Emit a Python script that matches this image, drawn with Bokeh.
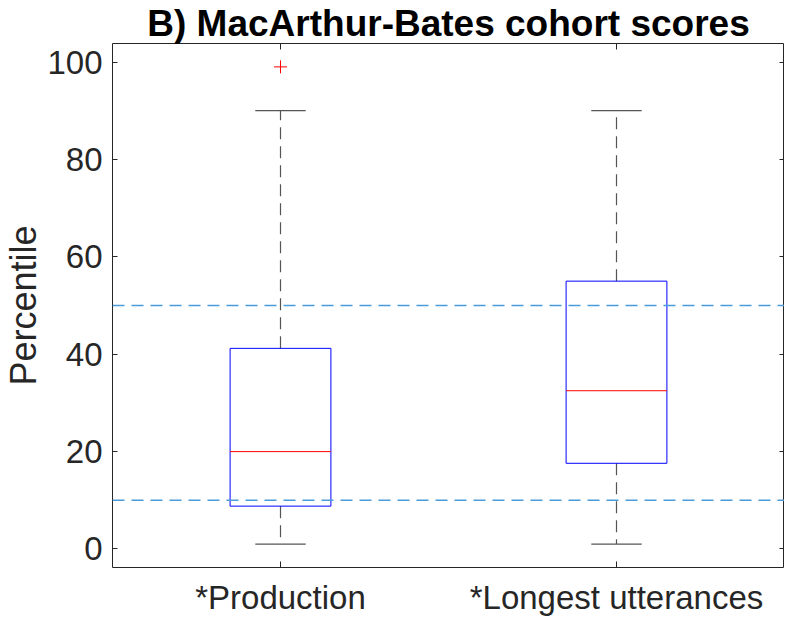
import numpy as np
from bokeh.plotting import figure
from bokeh.models import Range1d, FixedTicker, LinearAxis, Span, ColumnDataSource
from bokeh.embed import file_html
from bokeh.resources import INLINE

# ---- data ----
categories = ["*Production", "*Longest utterances"]
lower_whisker = [1, 1]
q1 = [8.8, 17.6]
median = [20, 32.5]
q3 = [41.2, 55]
upper_whisker = [90, 90]
outlier_group = [0]
outlier_values = [99]
reference_lines = [10, 50]
y_ticks = [0, 20, 40, 60, 80, 100]

AX = "#262626"
FONT = "Liberation Sans"
WHISK = "#555555"

pos = np.arange(1, len(categories) + 1).astype(float)
box_w = 0.3
cap_w = 0.15

src = ColumnDataSource(dict(
    x=pos,
    lower=lower_whisker, q1=q1, median=median, q3=q3, upper=upper_whisker,
    box_l=pos - box_w / 2, box_r=pos + box_w / 2,
    cap_l=pos - cap_w / 2, cap_r=pos + cap_w / 2,
))

p = figure(width=784, height=618, x_range=Range1d(0.5, 2.5), y_range=Range1d(-3.8, 103.8),
           output_backend="svg", toolbar_location=None,
           title="B) MacArthur-Bates cohort scores", min_border=0)
p.min_border_left = 0
p.min_border_right = 0
p.min_border_top = 0
p.min_border_bottom = 0
p.background_fill_color = "white"
p.border_fill_color = "white"
p.outline_line_color = AX
p.outline_line_width = 1

p.title.text_font = FONT
p.title.text_font_size = "37px"
p.title.text_font_style = "bold"
p.title.text_color = "black"
p.title.align = "center"
p.title.standoff = 0

p.xgrid.visible = False
p.ygrid.visible = False

# left axis
ya = p.yaxis[0]
ya.ticker = FixedTicker(ticks=y_ticks)
ya.axis_label = "Percentile"
ya.axis_label_text_font = FONT
ya.axis_label_text_font_size = "36px"
ya.axis_label_text_font_style = "normal"
ya.axis_label_text_color = AX
ya.axis_label_standoff = 0
ya.major_label_text_font = FONT
ya.major_label_text_font_size = "33px"
ya.major_label_text_color = AX
ya.major_label_standoff = 10
ya.major_tick_in = 5
ya.major_tick_out = 0
ya.minor_tick_in = 0
ya.minor_tick_out = 0
ya.major_tick_line_color = AX
ya.axis_line_color = None

# bottom axis
xa = p.xaxis[0]
xa.ticker = FixedTicker(ticks=[float(v) for v in pos])
xa.major_label_overrides = {float(v): c for v, c in zip(pos, categories)}
xa.major_label_text_font = FONT
xa.major_label_text_font_size = "33px"
xa.major_label_text_color = AX
xa.major_label_text_line_height = 1.0
xa.major_label_standoff = 11
xa.major_tick_in = 6
xa.major_tick_out = 0
xa.minor_tick_in = 0
xa.minor_tick_out = 0
xa.major_tick_line_color = AX
xa.axis_line_color = None

# mirrored tick axes (MATLAB box on), labels not drawn
ra = LinearAxis(ticker=FixedTicker(ticks=y_ticks), major_label_text_font_size="0px",
                major_label_text_color=None, major_label_overrides={t: "" for t in y_ticks},
                major_label_standoff=0, major_tick_in=5, major_tick_out=0,
                minor_tick_in=0, minor_tick_out=0, axis_line_color=None,
                major_tick_line_color=AX)
p.add_layout(ra, "right")
ta = LinearAxis(ticker=FixedTicker(ticks=[float(v) for v in pos]), major_label_text_font_size="0px",
                major_label_text_color=None, major_label_overrides={float(v): "" for v in pos},
                major_label_standoff=0, major_tick_in=6, major_tick_out=0,
                minor_tick_in=0, minor_tick_out=0, axis_line_color=None,
                major_tick_line_color=AX)
p.add_layout(ta, "above")

# whiskers
p.segment(x0="x", y0="q3", x1="x", y1="upper", source=src, line_color=WHISK,
          line_width=1.2, line_dash="12 7")
p.segment(x0="x", y0="q1", x1="x", y1="lower", source=src, line_color=WHISK,
          line_width=1.2, line_dash="12 7")
# caps
p.segment(x0="cap_l", y0="upper", x1="cap_r", y1="upper", source=src, line_color=WHISK, line_width=1.2)
p.segment(x0="cap_l", y0="lower", x1="cap_r", y1="lower", source=src, line_color=WHISK, line_width=1.2)
# boxes
p.quad(left="box_l", right="box_r", bottom="q1", top="q3", source=src,
       fill_color=None, line_color="#0000ff", line_width=1)
# medians
p.segment(x0="box_l", y0="median", x1="box_r", y1="median", source=src,
          line_color="#ff0000", line_width=1)
# outliers
p.scatter(x=[pos[g] for g in outlier_group], y=outlier_values, marker="cross", size=13,
          line_color="#ff0000", line_width=1)

for v in reference_lines:
    p.add_layout(Span(location=v, dimension="width", line_color="#4a9bd9",
                      line_width=1.5, line_dash="12 7"))

open("out.html", "w").write(file_html(p, INLINE))
